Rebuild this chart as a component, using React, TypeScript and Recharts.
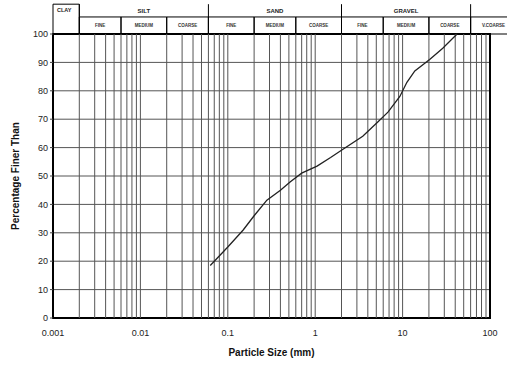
import React from "react";
import {
  LineChart,
  Line,
  XAxis,
  YAxis,
  CartesianGrid,
  ReferenceLine,
  ReferenceArea,
} from "recharts";

// grading curve
const sizes = [0.063, 0.1, 0.15, 0.2, 0.28, 0.4, 0.52, 0.7, 1.05, 1.5, 2.1, 3.5, 5.2, 6.8, 9.3, 11.2, 13.8, 20.4, 28.8, 42];
const finer = [18.5, 25, 31, 36, 41.5, 45, 48, 51, 53.5, 56.5, 59.5, 64, 69, 72.5, 78, 83, 87, 91, 95, 100];

const xTicks = [0.001, 0.01, 0.1, 1, 10, 100];
const yTicks = [0, 10, 20, 30, 40, 50, 60, 70, 80, 90, 100];

const decades = [0.001, 0.01, 0.1, 1, 10];
const multipliers = [2, 3, 4, 5, 6, 7, 8, 9];

// classification header
const groupNames = ["SILT", "SAND", "GRAVEL"];
const groupBounds = [0.002, 0.06, 2, 60];
const subNames = ["FINE", "MEDIUM", "COARSE", "FINE", "MEDIUM", "COARSE", "FINE", "MEDIUM", "COARSE", "V.COARSE"];
const subBounds = [0.002, 0.006, 0.02, 0.06, 0.2, 0.6, 2, 6, 20, 60, 200];

const data = sizes.map((s, i) => ({ size: s, finer: finer[i] }));
const gridLines = decades.flatMap((d) => multipliers.map((m) => +(d * m).toPrecision(3))).concat(decades.slice(1));

const fmt = (v: number) => String(v);

const App: React.FC = () => {
  return (
    <div style={{ position: "absolute", left: 0, top: 0 }}>
      <LineChart
        width={507}
        height={365}
        data={data}
        margin={{ top: 34, right: 17, bottom: 0, left: 0 }}
        style={{ fontFamily: "Liberation Sans, Arial, sans-serif" }}
      >
        <CartesianGrid vertical={false} stroke="#555" strokeWidth={1} />
        {gridLines.map((g) => (
          <ReferenceLine key={g} x={g} stroke="#555" strokeWidth={1} />
        ))}
        <XAxis
          dataKey="size"
          type="number"
          scale="log"
          domain={[0.001, 100]}
          ticks={xTicks}
          tickFormatter={fmt}
          allowDataOverflow
          axisLine={false}
          tickLine={false}
          tickMargin={6}
          height={47}
          tick={{ fontSize: 9, fill: "#222" }}
          label={{
            value: "Particle Size (mm)",
            position: "insideBottom",
            offset: 9,
            fontSize: 10,
            fontWeight: "bold",
            fill: "#111",
          }}
        />
        <YAxis
          type="number"
          domain={[0, 100]}
          ticks={yTicks}
          width={53}
          axisLine={false}
          tickSize={3}
          tickLine={{ stroke: "#444" }}
          tickMargin={2}
          tick={{ fontSize: 9, fill: "#222" }}
          label={{
            value: "Percentage Finer Than",
            angle: -90,
            position: "insideLeft",
            offset: 15,
            fontSize: 10,
            fontWeight: "bold",
            fill: "#111",
            style: { textAnchor: "middle" },
          }}
        />
        {/* header: clay cell */}
        <ReferenceArea
          x1={0.001}
          x2={0.002}
          y1={100}
          y2={110.5}
          ifOverflow="visible"
          fill="none"
          stroke="#000"
          label={{ value: "CLAY", position: "insideTopLeft", offset: 4, fontSize: 5.5, fontWeight: "bold", fill: "#222" }}
        />
        {/* header: group titles */}
        {groupNames.map((n, i) => (
          <ReferenceArea
            key={n}
            x1={groupBounds[i]}
            x2={groupBounds[i + 1]}
            y1={106}
            y2={110.5}
            ifOverflow="visible"
            fill="none"
            stroke="none"
            label={{ value: n, position: "center", fontSize: 6, fontWeight: "bold", fill: "#222" }}
          />
        ))}
        {groupBounds.map((b) => (
          <ReferenceLine
            key={"gb" + b}
            segment={[
              { x: b, y: 100 },
              { x: b, y: 110.5 },
            ]}
            ifOverflow="visible"
            stroke="#000"
          />
        ))}
        {/* header: sub-divisions */}
        {subNames.map((n, i) => (
          <ReferenceArea
            key={"s" + i}
            x1={subBounds[i]}
            x2={subBounds[i + 1]}
            y1={100}
            y2={106}
            ifOverflow="visible"
            fill="none"
            stroke="#000"
            label={{ value: n, position: "center", fontSize: 4.5, fontWeight: "bold", fill: "#333" }}
          />
        ))}
        {/* plot frame */}
        <ReferenceArea
          x1={0.001}
          x2={100}
          y1={0}
          y2={100}
          ifOverflow="visible"
          fill="none"
          stroke="#000"
          strokeWidth={2}
        />
        <Line
          type="linear"
          dataKey="finer"
          stroke="#222"
          strokeWidth={1.3}
          dot={false}
          isAnimationActive={false}
        />
      </LineChart>
    </div>
  );
};

export default App;
